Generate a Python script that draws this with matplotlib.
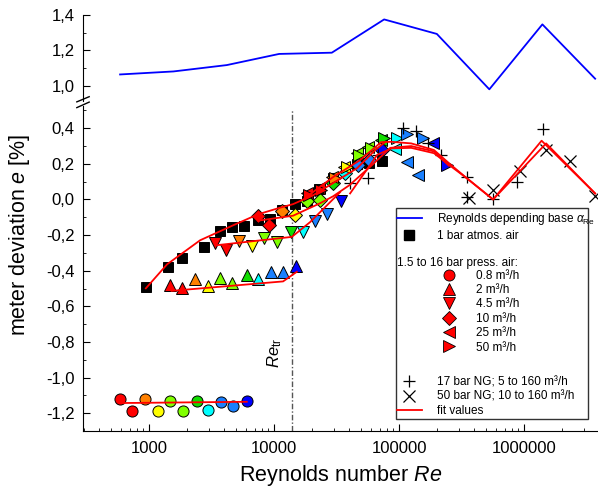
import numpy as np
import matplotlib
matplotlib.use("Agg")
import matplotlib.pyplot as plt  # noqa: E402
from matplotlib.lines import Line2D  # noqa: E402
from matplotlib.patches import Rectangle  # noqa: E402
from matplotlib.ticker import FixedLocator, FuncFormatter, LogLocator, NullFormatter  # noqa: E402

plt.rcParams['font.family'] = ['Liberation Sans', 'DejaVu Sans']
plt.rcParams['mathtext.fontset'] = 'custom'
plt.rcParams['mathtext.rm'] = 'Liberation Sans'
plt.rcParams['mathtext.it'] = 'Liberation Sans:italic'

# colour per pressure level (same order in every flow series)
colors = ['#ff0000', '#ff0000', '#ff8000', '#ffff00', '#80ff00', '#80ff00',
          '#11dd00', '#00ffff', '#1a80ff', '#1a80ff', '#0000ff']

# Reynolds depending base alpha_Re
base_re = [586, 1565, 4185, 10970, 28960, 75900, 200400, 527000, 1400000, 3700000]
base_e = [1.064, 1.081, 1.117, 1.180, 1.187, 1.375, 1.293, 0.980, 1.347, 1.040]

# 1 bar atmos. air
sq_re = [942, 1406, 1827, 2768, 3700, 4640, 5785, 7380, 9240, 11530, 14730,
         18280, 23000, 29650, 46100, 57800, 73500]
sq_e = [-0.493, -0.381, -0.327, -0.264, -0.177, -0.156, -0.147, -0.115, -0.111,
        -0.058, -0.025, -0.008, 0.058, 0.120, 0.199, 0.204, 0.215]

# 1.5 to 16 bar pressurised air
c08_re = [586, 728, 929, 1174, 1472, 1860, 2408, 2980, 3747, 4677, 6051]
c08_e = [-1.123, -1.185, -1.119, -1.189, -1.134, -1.185, -1.134, -1.181, -1.138, -1.161, -1.133]

c2_re = [1480, 1827, 2333, 2950, 3700, 4640, 6050, 7500, 9420, 11740, 15080]
c2_e = [-0.482, -0.496, -0.448, -0.486, -0.439, -0.468, -0.426, -0.444, -0.405, -0.405, -0.374]

c45_re = [3373, 4115, 5248, 6634, 8360, 10510, 13610, 16980, 21290, 26400, 34200]
c45_e = [-0.247, -0.282, -0.234, -0.263, -0.217, -0.238, -0.185, -0.182, -0.122, -0.081, -0.010]

c10_re = [7480, 9120, 11530, 14730, 18270, 23120, 29650, 36980, 46990, 57540, 73110]
c10_e = [-0.090, -0.142, -0.064, -0.088, -0.010, -0.004, 0.091, 0.147, 0.193, 0.221, 0.277]

c25_re = [18270, 22910, 29110, 36310, 45900, 56490, 71780, 92900, 115300, 142600, 187100]
c25_e = [0.034, 0.063, 0.126, 0.182, 0.260, 0.292, 0.333, 0.283, 0.212, 0.137, 0.315]

c50_re = [19050, 23770, 30760, 38370, 47860, 59700, 75860, 96400, 115300, 155600, 242100]
c50_e = [0.023, 0.052, 0.120, 0.182, 0.249, 0.288, 0.345, 0.345, 0.366, 0.346, 0.193]

# natural gas
ng17_re = [40550, 56800, 67300, 106700, 136800, 171500, 218000, 346700, 350000,
           565000, 874000, 1410000]
ng17_e = [0.090, 0.118, 0.250, 0.399, 0.384, 0.315, 0.251, 0.127, 0.012, 0.005, 0.100, 0.396]
ng50_re = [365000, 565000, 924000, 1510000, 2350000, 3660000]
ng50_e = [0.011, 0.056, 0.159, 0.277, 0.217, 0.019]

# fit values
fit_c08_re = [594, 6050]
fit_c08_e = [-1.143, -1.136]
fit_c2_re = [1514, 11800, 15200]
fit_c2_e = [-0.513, -0.460, -0.406]
fit_c45_re = [3436, 13860, 19410, 33730]
fit_c45_e = [-0.257, -0.210, -0.127, 0.041]
fit_sq_re = [942, 1393, 2559, 4699, 7447, 11170, 14190, 20510, 29650, 46130, 64270, 77270]
fit_sq_e = [-0.499, -0.364, -0.229, -0.145, -0.083, -0.046, -0.026, 0.024, 0.092, 0.176, 0.277, 0.322]
fit_c10_re = [7447, 14190, 23340, 29650, 40000, 60000, 85000, 125000, 190000, 250000]
fit_c10_e = [-0.119, -0.091, -0.021, 0.018, 0.080, 0.190, 0.290, 0.300, 0.270, 0.190]
fit_air_re = [17500, 29650, 48700, 71800, 86400, 125000, 190000, 260000, 350000,
              565000, 1380000, 3700000]
fit_air_e = [0.006, 0.126, 0.221, 0.322, 0.324, 0.315, 0.278, 0.194, 0.118, 0.0, 0.330, 0.034]
fit_ng_re = [40550, 66700, 86400, 125000, 190000, 260000, 350000, 565000, 1500000, 3700000]
fit_ng_e = [0.034, 0.250, 0.287, 0.290, 0.260, 0.186, 0.118, 0.0, 0.315, 0.034]

re_tr = 13900

fig = plt.figure(figsize=(5.98, 4.93), dpi=100)
ax = fig.add_axes([83 / 598, 1 - 431 / 493, 1 - 83 / 598, 325 / 493])
axt = fig.add_axes([83 / 598, 1 - 101 / 493, 1 - 83 / 598, 86 / 493], sharex=ax)

ax.set_xscale('log')
ax.set_xlim(296, 3.9e6)
ax.set_ylim(-1.3, 0.525)
axt.set_ylim(0.914, 1.4)

for a in (ax, axt):
    a.spines['top'].set_visible(False)
    a.spines['right'].set_visible(False)
    a.tick_params(which='both', direction='in', labelsize=12, right=False, top=False)
    a.tick_params(which='major', length=5)
    a.tick_params(which='minor', length=2.5)
    a.tick_params(axis='y', pad=6)
axt.spines['bottom'].set_visible(False)
axt.tick_params(which='both', bottom=False, labelbottom=False)

comma = FuncFormatter(lambda v, p: f"{v:.1f}".replace('.', ','))
ax.yaxis.set_major_locator(FixedLocator([-1.2, -1.0, -0.8, -0.6, -0.4, -0.2, 0.0, 0.2, 0.4]))
ax.yaxis.set_minor_locator(FixedLocator(np.arange(-1.3, 0.55, 0.1)))
ax.yaxis.set_major_formatter(comma)
axt.yaxis.set_major_locator(FixedLocator([1.0, 1.2, 1.4]))
axt.yaxis.set_minor_locator(FixedLocator([1.1, 1.3]))
axt.yaxis.set_major_formatter(comma)

ax.xaxis.set_major_locator(LogLocator(base=10, numticks=20))
ax.xaxis.set_minor_locator(LogLocator(base=10, subs=np.arange(2, 10), numticks=20))
ax.xaxis.set_major_formatter(FuncFormatter(lambda v, p: f"{v:.0f}"))
ax.xaxis.set_minor_formatter(NullFormatter())
ax.tick_params(axis='x', pad=7)

# axis break marks
d = 0.012
kw = dict(color='k', lw=1.0, clip_on=False)
axt.plot([-d, d], [-0.01, 0.05], transform=axt.transAxes, **kw)
ax.plot([-d, d], [0.995, 1.012], transform=ax.transAxes, **kw)

axt.plot(base_re, base_e, color='#0000ff', lw=1.3)

ax.plot([re_tr, re_tr], [-1.3, 0.5], color='#555555', lw=1.0, ls=(0, (4, 1.5, 1, 1.5)))
ax.text(re_tr * 0.86, -0.86, r'$Re_{\mathrm{tr}}$', rotation=90, ha='right', va='center', fontsize=12)

mkw = dict(ls='none', markeredgecolor='black', markeredgewidth=0.7)
ax.plot(sq_re, sq_e, 's', color='black', ms=7.5, **mkw)
for re, e, m, ms in [(c08_re, c08_e, 'o', 8), (c2_re, c2_e, '^', 9), (c45_re, c45_e, 'v', 9),
                     (c10_re, c10_e, 'D', 7), (c25_re, c25_e, '<', 9), (c50_re, c50_e, '>', 9)]:
    for x, y, c in zip(re, e, colors):
        ax.plot([x], [y], m, color=c, ms=ms, **mkw)
ax.plot(ng17_re, ng17_e, '+', color='black', ms=9, mew=0.9, ls='none')
ax.plot(ng50_re, ng50_e, 'x', color='black', ms=9, mew=0.9, ls='none')

for fx, fy in [(fit_c08_re, fit_c08_e), (fit_c2_re, fit_c2_e), (fit_c45_re, fit_c45_e),
               (fit_sq_re, fit_sq_e), (fit_c10_re, fit_c10_e), (fit_air_re, fit_air_e),
               (fit_ng_re, fit_ng_e)]:
    ax.plot(fx, fy, color='#ff0000', lw=1.3)

ax.set_xlabel('Reynolds number $Re$', fontsize=15.5, labelpad=5)
fig.text(20 / 598, 1 - 235 / 493, 'meter deviation $e$ [%]', rotation=90,
         ha='center', va='center', fontsize=15.5)

# legend box
ax.add_patch(Rectangle((0.607, 0.036), 0.374, 0.649, transform=ax.transAxes,
                       facecolor='white', edgecolor='#333333', lw=1.0, zorder=5))
lfs = 8.5
h1 = [Line2D([], [], color='#0000ff', lw=1.3),
      Line2D([], [], marker='s', color='black', ls='none', ms=7.5)]
leg1 = ax.legend(h1, [r'Reynolds depending base $\alpha_{\mathrm{Re}}$', '1 bar atmos. air'],
                 loc='upper left', bbox_to_anchor=(0.6097, 0.677), frameon=False,
                 fontsize=lfs, handlelength=2.1, handletextpad=1.25, labelspacing=0.25,
                 borderpad=0, borderaxespad=0)
leg1.set_zorder(6)
ax.add_artist(leg1)

h2 = [Line2D([], [], marker=m, color='#ff0000', markeredgecolor='black', markeredgewidth=0.6,
             ls='none', ms=s) for m, s in [('o', 8), ('^', 9), ('v', 9), ('D', 7), ('<', 9), ('>', 9)]]
leg2 = ax.legend(h2, ['0.8 m³/h', '2 m³/h', '4.5 m³/h', '10 m³/h', '25 m³/h', '50 m³/h'],
                 loc='upper left', bbox_to_anchor=(0.699, 0.4963), frameon=False,
                 fontsize=lfs, handlelength=1.0, handletextpad=1.8, labelspacing=0.2,
                 borderpad=0, borderaxespad=0)
leg2.set_zorder(6)
ax.add_artist(leg2)

h3 = [Line2D([], [], marker='+', color='black', ls='none', ms=9, mew=0.9),
      Line2D([], [], marker='x', color='black', ls='none', ms=9, mew=0.9),
      Line2D([], [], color='#ff0000', lw=1.3)]
leg3 = ax.legend(h3, ['17 bar NG; 5 to 160 m³/h', '50 bar NG; 10 to 160 m³/h', 'fit values'],
                 loc='upper left', bbox_to_anchor=(0.6097, 0.168), frameon=False,
                 fontsize=lfs, handlelength=2.1, handletextpad=1.25, labelspacing=0.2,
                 borderpad=0, borderaxespad=0)
leg3.set_zorder(6)

ax.text(0.610, 0.518, '1.5 to 16 bar press. air:', transform=ax.transAxes,
        fontsize=lfs, ha='left', va='center', zorder=7)

fig.savefig('out.png', dpi=100)
